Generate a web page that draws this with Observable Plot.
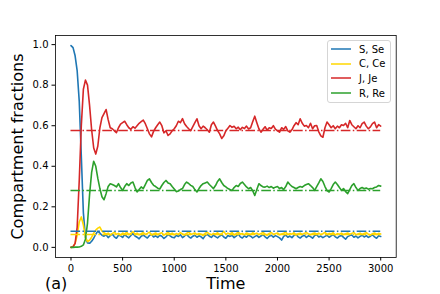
<!DOCTYPE html>
<html><head><meta charset="utf-8">
<script src="https://cdn.jsdelivr.net/npm/d3@7"></script>
<script src="https://cdn.jsdelivr.net/npm/@observablehq/plot@0.6"></script>
<style>
body{margin:0;background:#fff;}
#wrap{position:relative;width:440px;height:294px;font-family:"DejaVu Sans",sans-serif;color:#000;}
#wrap svg g[aria-label="x-axis label"], #wrap svg g[aria-label="y-axis label"]{font-size:16px;}
.legend{position:absolute;left:327px;top:40px;width:64px;height:63px;border:1px solid #d5d5d5;border-radius:3px;background:rgba(255,255,255,0.8);box-sizing:border-box;font-size:10px;}
.row{position:absolute;left:3px;height:12px;display:flex;align-items:center;white-space:nowrap;}
.row svg{margin-right:8px;display:block;}
#tag{position:absolute;left:45px;top:275px;font-size:16px;line-height:18px;}
</style></head><body><div id="wrap"><div id="tag">(a)</div></div>
<script>
const timeStep = 20; // sampled every 20 time units, 0..3000
const seriesNames = ["S, Se", "C, Ce", "J, Je", "R, Re"];
const seriesColors = ["#1f77b4", "#ffd700", "#d62728", "#2ca02c"];
const equilibrium = [0.080, 0.064, 0.576, 0.281];
const xTicks = [0, 500, 1000, 1500, 2000, 2500, 3000];
const yTicks = [0, 0.2, 0.4, 0.6, 0.8, 1.0];

const S = [0.995,0.985,0.945,0.87,0.72,0.45,0.17,0.05,0.022,0.02,0.03,0.045,0.065,0.08,0.07,0.06,
0.055,0.062,0.048,0.058,0.066,0.052,0.045,0.06,0.057,0.049,
0.063,0.054,0.047,0.059,0.068,0.056,0.05,0.042,0.055,0.061,
0.053,0.046,0.058,0.064,0.051,0.057,0.049,0.06,0.055,0.044,
0.052,0.063,0.057,0.05,0.047,0.059,0.054,0.062,0.048,0.056,
0.065,0.053,0.046,0.055,0.06,0.05,0.057,0.052,0.043,0.058,
0.064,0.055,0.049,0.061,0.053,0.047,0.056,0.062,0.051,0.045,
0.058,0.054,0.06,0.048,0.055,0.066,0.052,0.046,0.057,0.05,
0.061,0.055,0.047,0.053,0.059,0.049,0.056,0.063,0.052,0.044,
0.055,0.06,0.05,0.058,0.053,0.047,0.036,0.054,0.061,0.05,
0.056,0.048,0.059,0.064,0.052,0.046,0.055,0.06,0.049,0.057,
0.053,0.045,0.058,0.062,0.051,0.056,0.048,0.054,0.06,0.05,
0.057,0.063,0.052,0.046,0.055,0.059,0.049,0.04,0.053,0.058,
0.061,0.05,0.056,0.047,0.054,0.06,0.051,0.058,0.049,0.055,
0.062,0.052,0.045,0.057,0.054];

const C = [0,0.003,0.02,0.06,0.125,0.15,0.11,0.05,0.028,0.035,0.05,0.07,0.085,0.095,0.1,0.08,
0.072,0.065,0.07,0.061,0.068,0.075,0.064,0.069,0.06,0.071,
0.066,0.074,0.063,0.068,0.078,0.065,0.07,0.062,0.067,0.073,
0.064,0.069,0.075,0.061,0.066,0.071,0.063,0.068,0.072,0.06,
0.067,0.074,0.065,0.07,0.062,0.068,0.064,0.073,0.066,0.061,
0.069,0.076,0.064,0.067,0.071,0.063,0.068,0.065,0.058,0.07,
0.074,0.066,0.062,0.069,0.065,0.072,0.063,0.067,0.079,0.064,
0.07,0.066,0.073,0.061,0.068,0.075,0.065,0.069,0.062,0.071,
0.067,0.064,0.072,0.066,0.07,0.063,0.068,0.074,0.065,0.06,
0.069,0.073,0.064,0.067,0.071,0.062,0.066,0.07,0.075,0.063,
0.068,0.065,0.072,0.061,0.067,0.07,0.064,0.069,0.073,0.066,
0.062,0.068,0.071,0.065,0.07,0.063,0.067,0.074,0.064,0.069,
0.066,0.072,0.061,0.068,0.065,0.07,0.063,0.067,0.071,0.064,
0.069,0.073,0.062,0.066,0.07,0.064,0.068,0.072,0.065,0.06,
0.067,0.071,0.064,0.069,0.066];

const J = [0,0.003,0.02,0.1,0.33,0.6,0.78,0.825,0.8,0.7,0.58,0.49,0.46,0.5,0.59,0.64,0.66,0.68,0.63,0.59,
0.585,0.575,0.566,0.59,0.608,0.615,0.622,0.605,0.59,0.582,
0.595,0.588,0.6,0.612,0.62,0.628,0.61,0.585,0.56,0.545,
0.572,0.59,0.605,0.618,0.6,0.565,0.575,0.552,0.56,0.575,
0.585,0.6,0.622,0.615,0.635,0.61,0.596,0.585,0.576,0.595,
0.615,0.634,0.6,0.585,0.598,0.59,0.58,0.568,0.605,0.618,
0.598,0.576,0.56,0.537,0.55,0.575,0.588,0.601,0.592,0.597,
0.585,0.593,0.58,0.592,0.586,0.598,0.584,0.59,0.62,0.647,
0.615,0.585,0.568,0.582,0.595,0.578,0.59,0.586,0.6,0.583,
0.575,0.568,0.59,0.582,0.596,0.575,0.568,0.58,0.6,0.615,
0.605,0.634,0.612,0.598,0.601,0.59,0.612,0.585,0.6,0.601,
0.57,0.55,0.543,0.59,0.618,0.605,0.59,0.6,0.585,0.598,
0.59,0.605,0.601,0.612,0.59,0.626,0.605,0.595,0.585,0.6,
0.59,0.61,0.618,0.598,0.585,0.594,0.61,0.618,0.59,0.605,
0.598];

const R = [0,0,0.001,0.001,0.002,0.005,0.012,0.04,0.12,0.26,0.37,0.425,0.4,0.34,0.29,0.25,0.235,0.265,0.3,0.314,
0.31,0.305,0.298,0.314,0.295,0.281,0.3,0.314,0.305,0.318,
0.322,0.295,0.273,0.285,0.298,0.29,0.31,0.33,0.338,0.32,
0.306,0.3,0.292,0.288,0.305,0.32,0.33,0.318,0.314,0.3,
0.288,0.275,0.278,0.285,0.29,0.31,0.322,0.315,0.306,0.3,
0.285,0.273,0.29,0.305,0.314,0.318,0.322,0.31,0.3,0.29,
0.305,0.325,0.338,0.32,0.305,0.298,0.29,0.285,0.281,0.295,
0.305,0.3,0.315,0.322,0.31,0.298,0.289,0.295,0.28,0.256,
0.285,0.314,0.305,0.298,0.297,0.302,0.295,0.3,0.292,0.297,
0.3,0.29,0.295,0.285,0.3,0.322,0.31,0.3,0.295,0.289,
0.295,0.3,0.297,0.305,0.31,0.314,0.305,0.295,0.281,0.3,
0.318,0.338,0.325,0.3,0.28,0.273,0.29,0.31,0.322,0.31,
0.295,0.281,0.29,0.275,0.265,0.285,0.305,0.314,0.295,0.281,
0.29,0.295,0.289,0.293,0.287,0.29,0.289,0.295,0.298,0.305,
0.302];

const allSeries = [S, C, J, R];
const rows = [];
allSeries.forEach((vals, k) => vals.forEach((v, i) => rows.push({t: i * timeStep, v, name: seriesNames[k]})));
const tEnd = (S.length - 1) * timeStep;
const eqRows = equilibrium.map((v, k) => ({v, name: seriesNames[k]}));

const marks = [];
seriesNames.forEach(n => {
  marks.push(Plot.line(rows.filter(d => d.name === n), {x: "t", y: "v", stroke: "name", strokeWidth: 1.6}));
});
eqRows.forEach(d => {
  marks.push(Plot.ruleY([d], {y: "v", x1: 0, x2: tEnd, stroke: "name", strokeWidth: 1.5, strokeDasharray: "9.6,2.4,1.5,2.4"}));
});
marks.push(Plot.frame({stroke: "#000", strokeWidth: 0.8}));

const chart = Plot.plot({
  width: 440, height: 294,
  marginLeft: 55, marginRight: 44.3, marginTop: 35, marginBottom: 37,
  style: {fontFamily: "DejaVu Sans", fontSize: "10px", color: "#000", background: "white", overflow: "visible"},
  x: {domain: [-150, 3150], ticks: xTicks, tickFormat: d3.format("d"), tickSize: 3.5, tickPadding: 3.5,
      label: "Time", labelAnchor: "center", labelOffset: 31, labelArrow: "none"},
  y: {domain: [-0.05, 1.045], ticks: yTicks, tickFormat: d3.format(".1f"), tickSize: 3.5, tickPadding: 3.5,
      label: "Compartment fractions", labelAnchor: "center", labelOffset: 44, labelArrow: "none"},
  color: {domain: seriesNames, range: seriesColors},
  marks
});
const wrap = document.getElementById("wrap");
wrap.insertBefore(chart, wrap.firstChild);

const leg = document.createElement("div");
leg.className = "legend";
seriesNames.forEach((n, k) => {
  const r = document.createElement("div");
  r.className = "row";
  r.style.top = (2 + k * 14.7) + "px";
  r.innerHTML = `<svg width="20" height="4"><line x1="0" x2="20" y1="2" y2="2" stroke="${seriesColors[k]}" stroke-width="1.5"/></svg><span>${n}</span>`;
  leg.appendChild(r);
});
wrap.appendChild(leg);
</script></body></html>
